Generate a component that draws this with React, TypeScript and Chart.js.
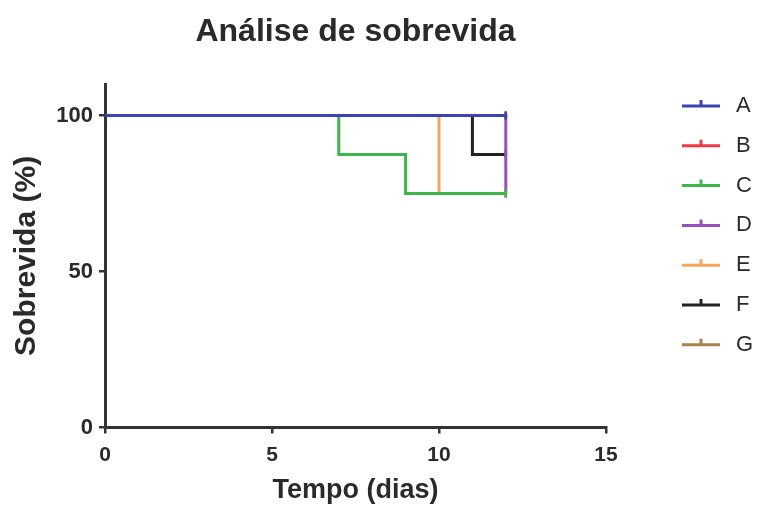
import React, { useEffect, useRef } from 'react';
import { Chart, registerables } from 'chart.js';

Chart.register(...registerables);

const GROUPS = ['A', 'B', 'C', 'D', 'E', 'F', 'G'];
const COLORS = ['#3d42b4', '#ee3a43', '#3fb64a', '#9a4fbf', '#f6a55a', '#222222', '#a8834a'];

const TIMES_A = [0, 12];
const SURV_A = [100, 100];
const TIMES_B = [0, 12];
const SURV_B = [100, 100];
const TIMES_C = [0, 7, 9, 12];
const SURV_C = [100, 87.5, 75, 75];
const TIMES_D = [0, 12];
const SURV_D = [100, 75];
const TIMES_E = [0, 10, 12];
const SURV_E = [100, 75, 75];
const TIMES_F = [0, 11, 12];
const SURV_F = [100, 87.5, 87.5];
const TIMES_G = [0, 12];
const SURV_G = [100, 100];

const ALL_TIMES = [TIMES_A, TIMES_B, TIMES_C, TIMES_D, TIMES_E, TIMES_F, TIMES_G];
const ALL_SURV = [SURV_A, SURV_B, SURV_C, SURV_D, SURV_E, SURV_F, SURV_G];

const X_TICKS = [0, 5, 10, 15];
const Y_TICKS = [0, 50, 100];

const TITLE = 'Análise de sobrevida';
const X_TITLE = 'Tempo (dias)';
const Y_TITLE = 'Sobrevida (%)';

const FONT = 'Liberation Sans, Arial, Helvetica, sans-serif';
const AXIS_COLOR = '#333333';
const TEXT_COLOR = '#2a2a2a';

const legendPlugin = {
  id: 'kmLegend',
  afterDraw(chart: any) {
    const ctx = chart.ctx;
    ctx.save();
    const top = 106;
    const gap = 39.8;
    chart.data.datasets.forEach((ds: any, i: number) => {
      const y = top + i * gap;
      ctx.strokeStyle = ds.borderColor;
      ctx.lineWidth = 3;
      ctx.beginPath();
      ctx.moveTo(682, y);
      ctx.lineTo(720, y);
      ctx.moveTo(701, y);
      ctx.lineTo(701, y - 6);
      ctx.stroke();
      ctx.fillStyle = TEXT_COLOR;
      ctx.font = `22px ${FONT}`;
      ctx.textBaseline = 'middle';
      ctx.textAlign = 'left';
      ctx.fillText(ds.label, 736, y);
    });
    ctx.restore();
  },
};

export default function App() {
  const ref = useRef<HTMLCanvasElement | null>(null);

  useEffect(() => {
    if (!ref.current) return;
    const datasets = GROUPS.map((g, gi) => {
      const times = ALL_TIMES[gi];
      const surv = ALL_SURV[gi];
      return {
        label: g,
        data: times.map((t, i) => ({ x: t, y: surv[i] })),
        borderColor: COLORS[gi],
        backgroundColor: COLORS[gi],
        borderWidth: 3,
        stepped: 'before' as const,
        fill: false,
        pointStyle: 'line' as const,
        pointRotation: 90,
        pointRadius: times.map((_, i) => (i === times.length - 1 && i > 0 ? 4 : 0)),
        pointBorderWidth: 2.5,
        pointBorderColor: COLORS[gi],
        clip: false as const,
      };
    });

    const chart = new Chart(ref.current, {
      type: 'line',
      data: { datasets },
      plugins: [legendPlugin],
      options: {
        responsive: false,
        animation: false,
        layout: { padding: { left: 0, right: 157, top: 0, bottom: 0 } },
        plugins: {
          legend: { display: false },
          tooltip: { enabled: false },
          title: {
            display: true,
            text: TITLE,
            fullSize: false,
            color: TEXT_COLOR,
            font: { family: FONT, size: 32, weight: 'bold' },
            padding: { top: 13, bottom: 32.9 },
          },
        },
        scales: {
          x: {
            type: 'linear',
            min: 0,
            max: 15,
            afterBuildTicks: (s: any) => {
              s.ticks = X_TICKS.map((v) => ({ value: v }));
            },
            afterFit: (s: any) => {
              s.height = 79.5;
            },
            ticks: {
              color: TEXT_COLOR,
              font: { family: FONT, size: 21, weight: 'bold' },
              padding: 9,
              maxRotation: 0,
            },
            grid: { drawOnChartArea: false, drawTicks: true, tickLength: 6, color: AXIS_COLOR, lineWidth: 2.5 },
            border: { display: true, color: AXIS_COLOR, width: 3 },
            title: {
              display: true,
              text: X_TITLE,
              color: TEXT_COLOR,
              font: { family: FONT, size: 27, weight: 'bold' },
              padding: { top: 0, bottom: 0 },
            },
          },
          y: {
            type: 'linear',
            min: 0,
            max: 110,
            afterBuildTicks: (s: any) => {
              s.ticks = Y_TICKS.map((v) => ({ value: v }));
            },
            afterFit: (s: any) => {
              s.width = 105;
            },
            ticks: {
              color: TEXT_COLOR,
              font: { family: FONT, size: 22, weight: 'bold' },
              padding: 6,
            },
            grid: { drawOnChartArea: false, drawTicks: true, tickLength: 6, color: AXIS_COLOR, lineWidth: 2.5 },
            border: { display: true, color: AXIS_COLOR, width: 3 },
            title: {
              display: true,
              text: Y_TITLE,
              color: TEXT_COLOR,
              font: { family: FONT, size: 30, weight: 'bold' },
              padding: { top: 9, bottom: 0 },
            },
          },
        },
      },
    });
    return () => chart.destroy();
  }, []);

  return (
    <div style={{ position: 'absolute', left: 0, top: 0, width: 763, height: 507, background: '#fff' }}>
      <canvas ref={ref} width={763} height={507} />
    </div>
  );
}
